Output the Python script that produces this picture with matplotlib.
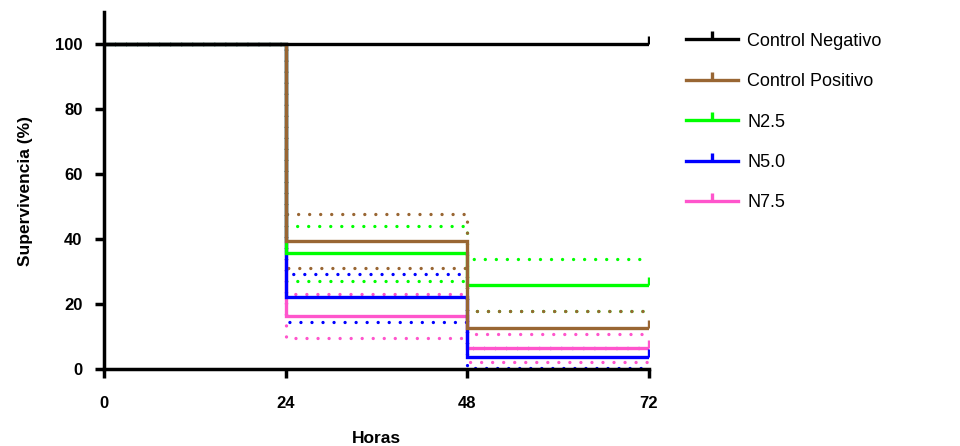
import matplotlib.pyplot as plt
from matplotlib.lines import Line2D

plt.rcParams['font.family'] = ['Liberation Sans', 'DejaVu Sans']

# ===== datos (supervivencia %, escalones en 0/24/48/72 h) =====
horas = [0, 24, 48, 72]
grupos = ["Control Negativo", "Control Positivo", "N2.5", "N5.0", "N7.5"]

surv_neg = [100, 100, 100, 100]
surv_pos = [100, 39.4, 12.5, 12.5]
surv_n25 = [100, 35.6, 26.0, 26.0]
surv_n50 = [100, 22.1, 3.6, 3.6]
surv_n75 = [100, 16.3, 6.6, 6.6]

# intervalos de confianza (superior / inferior)
ci_pos_hi = [100, 47.9, 18.0, 18.0]
ci_pos_lo = [100, 31.0, 6.6, 6.6]
ci_n25_hi = [100, 44.2, 33.8, 33.8]
ci_n25_lo = [100, 27.0, 18.0, 18.0]
ci_n50_hi = [100, 29.3, 6.6, 6.6]
ci_n50_lo = [100, 14.6, 0.3, 0.3]
ci_n75_hi = [100, 23.0, 10.9, 10.9]
ci_n75_lo = [100, 9.7, 2.3, 2.3]

colores = ["#000000", "#996633", "#00FF00", "#0000FF", "#FF55CC"]

series = [
    (surv_n75, ci_n75_hi, ci_n75_lo, colores[4]),
    (surv_n50, ci_n50_hi, ci_n50_lo, colores[3]),
    (surv_n25, ci_n25_hi, ci_n25_lo, colores[2]),
    (surv_pos, ci_pos_hi, ci_pos_lo, colores[1]),
    (surv_neg, None, None, colores[0]),
]

fig = plt.figure(figsize=(9.6, 4.46), dpi=100)
ax = fig.add_axes([0.1083, 0.1726, 0.5677, 0.8004])

# bandas punteadas
for surv, hi, lo, c in series:
    if hi is None:
        continue
    for ci in (hi, lo):
        ax.step(horas, ci, where="post", color=c, lw=2.4,
                linestyle=(0, (0.01, 3.3)), dash_capstyle="round", zorder=2)

# curvas
for surv, hi, lo, c in series:
    ax.step(horas, surv, where="post", color=c, lw=2.4, zorder=3,
            solid_joinstyle="miter")
    ax.plot(horas[-1:], surv[-1:], linestyle="none", marker=2,
            markersize=6, mew=2.4, color=c, zorder=3)

ax.set_xlim(0, 72)
ax.set_ylim(0, 110)
ax.set_xticks(horas)
ax.set_yticks([0, 20, 40, 60, 80, 100])

for s in ["top", "right"]:
    ax.spines[s].set_visible(False)
for s in ["left", "bottom"]:
    ax.spines[s].set_linewidth(2.5)
    ax.spines[s].set_zorder(5)

ax.tick_params(axis="both", direction="out", length=6.5, width=2.5,
               labelsize=12)
ax.tick_params(axis="x", pad=13)
ax.tick_params(axis="y", pad=9)
for lab in ax.get_xticklabels() + ax.get_yticklabels():
    lab.set_fontweight("bold")

ax.set_xlabel("Horas", fontsize=12.5, fontweight="bold", labelpad=14)
ax.set_ylabel("Supervivencia (%)", fontsize=12.5, fontweight="bold",
              labelpad=16)

# leyenda
handles = [Line2D([0], [0], color=c, lw=2.4, marker=2, markersize=6, mew=2.4)
           for c in colores]
fig.legend(handles, grupos, loc="upper left", bbox_to_anchor=(0.7146, 0.927),
           frameon=False, fontsize=13, handlelength=2.9, handletextpad=0.5,
           labelspacing=1.3, borderpad=0, borderaxespad=0, numpoints=1)

fig.savefig("out.png", dpi=100)
